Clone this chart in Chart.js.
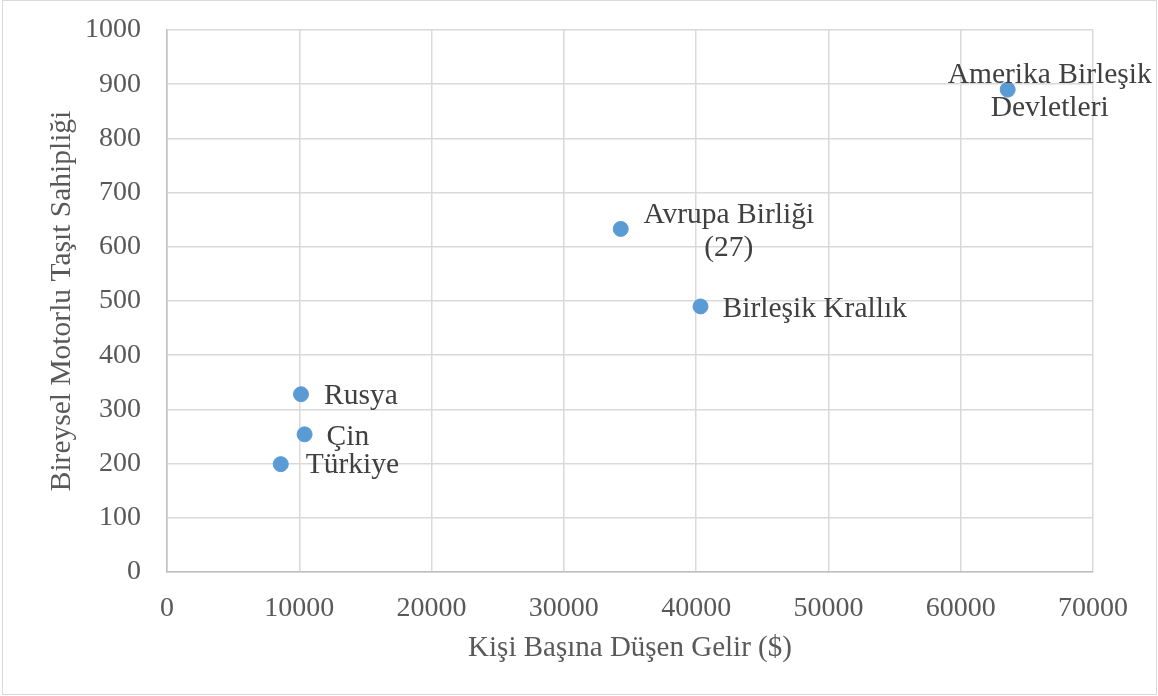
<!DOCTYPE html>
<html>
<head>
<meta charset="utf-8">
<script src="https://cdn.jsdelivr.net/npm/chart.js@4"></script>
<style>
    html, body { margin: 0; padding: 0; background: #fff; }
    #wrap { position: relative; width: 1158px; height: 696px; }
</style>
</head>
<body>
<div id="wrap"><canvas id="scatterChart" width="1158" height="696"></canvas></div>
<script>
// Countries and values
const countries = [
    ["Amerika Birleşik", "Devletleri"],
    ["Avrupa Birliği", "(27)"],
    ["Birleşik Krallık"],
    ["Rusya"],
    ["Çin"],
    ["Türkiye"]
];
const incomePerCapita = [63550, 34300, 40330, 10130, 10400, 8600];
const vehicleOwnership = [890, 633, 490, 328, 254, 199];

const xTicks = [0, 10000, 20000, 30000, 40000, 50000, 60000, 70000];
const yTicks = [0, 100, 200, 300, 400, 500, 600, 700, 800, 900, 1000];

// label placement relative to each point (dx, dy, align)
const labelOffsets = [
    { dx: 42, dy: -14, align: "center" },
    { dx: 108, dy: -14, align: "center" },
    { dx: 22, dy: 3, align: "left" },
    { dx: 23, dy: 2, align: "left" },
    { dx: 22, dy: 3, align: "left" },
    { dx: 25, dy: 1, align: "left" }
];

const FONT = "'Liberation Serif', 'Times New Roman', serif";

/*** ===========================
 *  POINT LABELS + FRAME PLUGIN
 *  =========================== ***/
const pointLabels = {
    id: "pointLabels",
    beforeDraw(chart) {
        const ctx = chart.ctx;
        ctx.save();
        ctx.strokeStyle = "#d9d9d9";
        ctx.lineWidth = 1;
        ctx.strokeRect(2.5, 0.5, 1154, 694);
        ctx.restore();
    },
    afterDatasetsDraw(chart) {
        const ctx = chart.ctx;
        const meta = chart.getDatasetMeta(0);
        ctx.save();
        ctx.font = "29.5px " + FONT;
        ctx.fillStyle = "#404040";
        ctx.textBaseline = "middle";
        meta.data.forEach(function (pt, i) {
            const off = labelOffsets[i];
            ctx.textAlign = off.align;
            countries[i].forEach(function (line, j) {
                ctx.fillText(line, pt.x + off.dx, pt.y + off.dy + j * 33);
            });
        });
        ctx.restore();
    }
};

const ctx = document.getElementById("scatterChart").getContext("2d");

new Chart(ctx, {
    type: "scatter",
    data: {
        datasets: [{
            data: incomePerCapita.map((x, i) => ({ x: x, y: vehicleOwnership[i] })),
            backgroundColor: "#5b9bd5",
            borderColor: "#5b9bd5",
            pointRadius: 7.5,
            pointHoverRadius: 7.5
        }]
    },
    options: {
        responsive: false,
        animation: false,
        layout: { padding: { top: 30, right: 65, left: 0, bottom: 0 } },
        plugins: {
            legend: { display: false },
            tooltip: { enabled: false }
        },
        scales: {
            x: {
                type: "linear",
                min: xTicks[0],
                max: xTicks[xTicks.length - 1],
                afterBuildTicks: (scale) => { scale.ticks = xTicks.map(v => ({ value: v })); },
                afterFit: (scale) => {
                    scale.height = 124;
                    scale.paddingLeft = 0;
                    scale.paddingRight = 0;
                },
                grid: { color: "#d9d9d9", lineWidth: 1.5, drawTicks: false },
                border: { color: "#bfbfbf", width: 1.5 },
                ticks: {
                    color: "#595959",
                    padding: 20,
                    maxRotation: 0,
                    font: { family: FONT, size: 28 },
                    callback: (v) => String(v)
                },
                title: {
                    display: true,
                    text: "Kişi Başına Düşen Gelir ($)",
                    color: "#595959",
                    font: { family: FONT, size: 29 },
                    padding: { top: 0, bottom: 30 }
                }
            },
            y: {
                type: "linear",
                min: yTicks[0],
                max: yTicks[yTicks.length - 1],
                afterBuildTicks: (scale) => { scale.ticks = yTicks.map(v => ({ value: v })); },
                afterFit: (scale) => {
                    scale.width = 167;
                    scale.paddingTop = 0;
                    scale.paddingBottom = 0;
                },
                grid: { color: "#d9d9d9", lineWidth: 1.5, drawTicks: false },
                border: { color: "#bfbfbf", width: 1.5 },
                ticks: {
                    color: "#595959",
                    padding: 26,
                    font: { family: FONT, size: 28 },
                    callback: (v) => String(v)
                },
                title: {
                    display: true,
                    text: "Bireysel Motorlu Taşıt Sahipliği",
                    color: "#595959",
                    font: { family: FONT, size: 29.5 },
                    padding: { top: 45, bottom: 0 }
                }
            }
        }
    },
    plugins: [pointLabels]
});
</script>
</body>
</html>
